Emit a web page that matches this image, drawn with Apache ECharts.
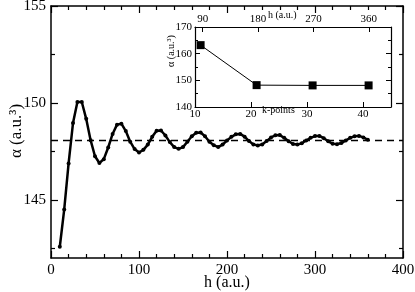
<!DOCTYPE html>
<html>
<head>
<meta charset="utf-8">
<script src="https://cdn.jsdelivr.net/npm/echarts@6/dist/echarts.min.js"></script>
<style>html,body{margin:0;padding:0;background:#fff}#c{width:415px;height:292px}</style>
</head>
<body>
<div id="c"></div>
<script>
// Main curve: polarizability vs box size h
const hValues = [10,15,20,25,30,35,40,45,50,55,60,65,70,75,80,85,90,95,100,105,110,115,120,125,130,135,140,145,150,155,160,165,170,175,180,185,190,195,200,205,210,215,220,225,230,235,240,245,250,255,260,265,270,275,280,285,290,295,300,305,310,315,320,325,330,335,340,345,350,355,360];
const alphaValues = [142.58,144.50,146.88,148.96,150.05,150.05,149.18,148.08,147.25,146.90,147.10,147.70,148.40,148.88,148.93,148.55,148.00,147.62,147.44,147.58,147.85,148.25,148.56,148.58,148.32,147.98,147.72,147.63,147.72,148.00,148.28,148.46,148.47,148.28,148.00,147.82,147.72,147.85,148.06,148.25,148.38,148.40,148.26,148.03,147.86,147.80,147.86,148.03,148.22,148.33,148.34,148.20,148.02,147.88,147.85,147.92,148.06,148.20,148.29,148.30,148.18,148.02,147.90,147.87,147.93,148.06,148.20,148.28,148.30,148.22,148.10];
const refAlpha = 148.07;
// Inset: polarizability vs k-points
const kPoints = [11,21,31,41];
const kAlpha = [163.2,148.2,148.1,148.1];
// Tick labels
const mainYTicks = [145,150,155];
const mainYMinor = [142.5,147.5,152.5];
const insetXTicks = [10,20,30,40];
const insetTopTicks = [90,180,270,360];

const FONT = 'Liberation Serif';
const black = '#000';
const chart = echarts.init(document.getElementById('c'), null, {renderer:'canvas'});
const axLine = {show:true, lineStyle:{color:black, width:1.5}};
const mainData = hValues.map((h,i)=>[h, alphaValues[i]]);
const insetData = kPoints.map((k,i)=>[k, kAlpha[i]]);

chart.setOption({
  animation:false,
  backgroundColor:'#fff',
  grid:[
    {left:51, top:6, width:352, height:252, outerBoundsMode:'none', containLabel:false},
    {left:195, top:27, width:196, height:80, outerBoundsMode:'none', containLabel:false, show:true, backgroundColor:'#fff', borderWidth:0}
  ],
  xAxis:[
    {gridIndex:0, type:'value', min:0, max:400, interval:100, position:'bottom',
     axisLine:axLine, splitLine:{show:false},
     axisTick:{inside:true, length:7, lineStyle:{color:black, width:1.2}},
     minorTick:{show:true, splitNumber:5, length:4, lineStyle:{color:black, width:1.2}},
     axisLabel:{color:black, fontFamily:FONT, fontSize:15, margin:5}},
    {gridIndex:0, type:'value', min:0, max:400, interval:100, position:'top',
     axisLine:axLine, splitLine:{show:false},
     axisTick:{inside:true, length:7, lineStyle:{color:black, width:1.2}},
     minorTick:{show:true, splitNumber:5, length:4, lineStyle:{color:black, width:1.2}},
     axisLabel:{show:false}},
    {gridIndex:1, type:'value', min:10, max:45, position:'bottom',
     axisLine:{show:true, lineStyle:{color:black, width:1.2}}, splitLine:{show:false},
     axisTick:{inside:true, length:5, customValues:insetXTicks, lineStyle:{color:black}},
     axisLabel:{color:black, fontFamily:FONT, fontSize:11, margin:2, customValues:insetXTicks}},
    {gridIndex:1, type:'value', min:77.6, max:396, position:'top',
     axisLine:{show:true, lineStyle:{color:black, width:1.2}}, splitLine:{show:false},
     axisTick:{inside:true, length:5, customValues:insetTopTicks, lineStyle:{color:black}},
     axisLabel:{color:black, fontFamily:FONT, fontSize:11, margin:2, customValues:insetTopTicks}}
  ],
  yAxis:[
    {gridIndex:0, type:'value', min:142, max:155, position:'left',
     axisLine:axLine, splitLine:{show:false},
     axisTick:{inside:true, length:7, customValues:mainYTicks, lineStyle:{color:black, width:1.2}},
     axisLabel:{color:black, fontFamily:FONT, fontSize:15, margin:5, customValues:mainYTicks}},
    {gridIndex:0, type:'value', min:142, max:155, position:'left',
     axisLine:{show:false}, splitLine:{show:false},
     axisTick:{inside:true, length:4, customValues:mainYMinor, lineStyle:{color:black, width:1.2}},
     axisLabel:{show:false}},
    {gridIndex:0, type:'value', min:142, max:155, position:'right',
     axisLine:axLine, splitLine:{show:false},
     axisTick:{inside:true, length:7, customValues:mainYTicks, lineStyle:{color:black, width:1.2}},
     axisLabel:{show:false}},
    {gridIndex:0, type:'value', min:142, max:155, position:'right',
     axisLine:{show:false}, splitLine:{show:false},
     axisTick:{inside:true, length:4, customValues:mainYMinor, lineStyle:{color:black, width:1.2}},
     axisLabel:{show:false}},
    {gridIndex:1, type:'value', min:140, max:170, interval:10, position:'left',
     axisLine:{show:true, lineStyle:{color:black, width:1.2}}, splitLine:{show:false},
     axisTick:{inside:true, length:5, lineStyle:{color:black}},
     minorTick:{show:true, splitNumber:2, length:3, lineStyle:{color:black}},
     axisLabel:{color:black, fontFamily:FONT, fontSize:11, margin:3}},
    {gridIndex:1, type:'value', min:140, max:170, interval:10, position:'right',
     axisLine:{show:true, lineStyle:{color:black, width:1.2}}, splitLine:{show:false},
     axisTick:{inside:true, length:5, lineStyle:{color:black}},
     minorTick:{show:true, splitNumber:2, length:3, lineStyle:{color:black}},
     axisLabel:{show:false}}
  ],
  graphic:[
    {type:'text', x:227, y:283, z:100, style:{text:'h (a.u.)', font:'16px "Liberation Serif"', fill:black, align:'center', verticalAlign:'middle'}},
    {type:'text', x:17, y:131, rotation:Math.PI/2, z:100, style:{text:'α (a.u.³)', font:'17px "Liberation Serif"', fill:black, align:'center', verticalAlign:'middle'}},
    {type:'text', x:171, y:51, rotation:Math.PI/2, z:100, style:{text:'α (a.u.³)', font:'10px "Liberation Serif"', fill:black, align:'center', verticalAlign:'middle'}},
    {type:'text', left:262, top:105, z:100, style:{text:'k-points', font:'10px "Liberation Serif"', fill:black}},
    {type:'text', left:268, top:10, z:100, style:{text:'h (a.u.)', font:'10px "Liberation Serif"', fill:black}}
  ],
  series:[
    {type:'line', xAxisIndex:0, yAxisIndex:0, data:mainData, symbol:'circle', symbolSize:4,
     lineStyle:{color:black, width:2.5}, itemStyle:{color:black}, z:3,
     markLine:{silent:true, symbol:'none', label:{show:false},
       lineStyle:{color:black, width:1.4, type:[7,5]},
       data:[{yAxis:refAlpha}]}},
    {type:'line', xAxisIndex:2, yAxisIndex:4, data:insetData, symbol:'rect', symbolSize:8,
     lineStyle:{color:black, width:1}, itemStyle:{color:black}, z:10}
  ]
});
</script>
</body>
</html>
